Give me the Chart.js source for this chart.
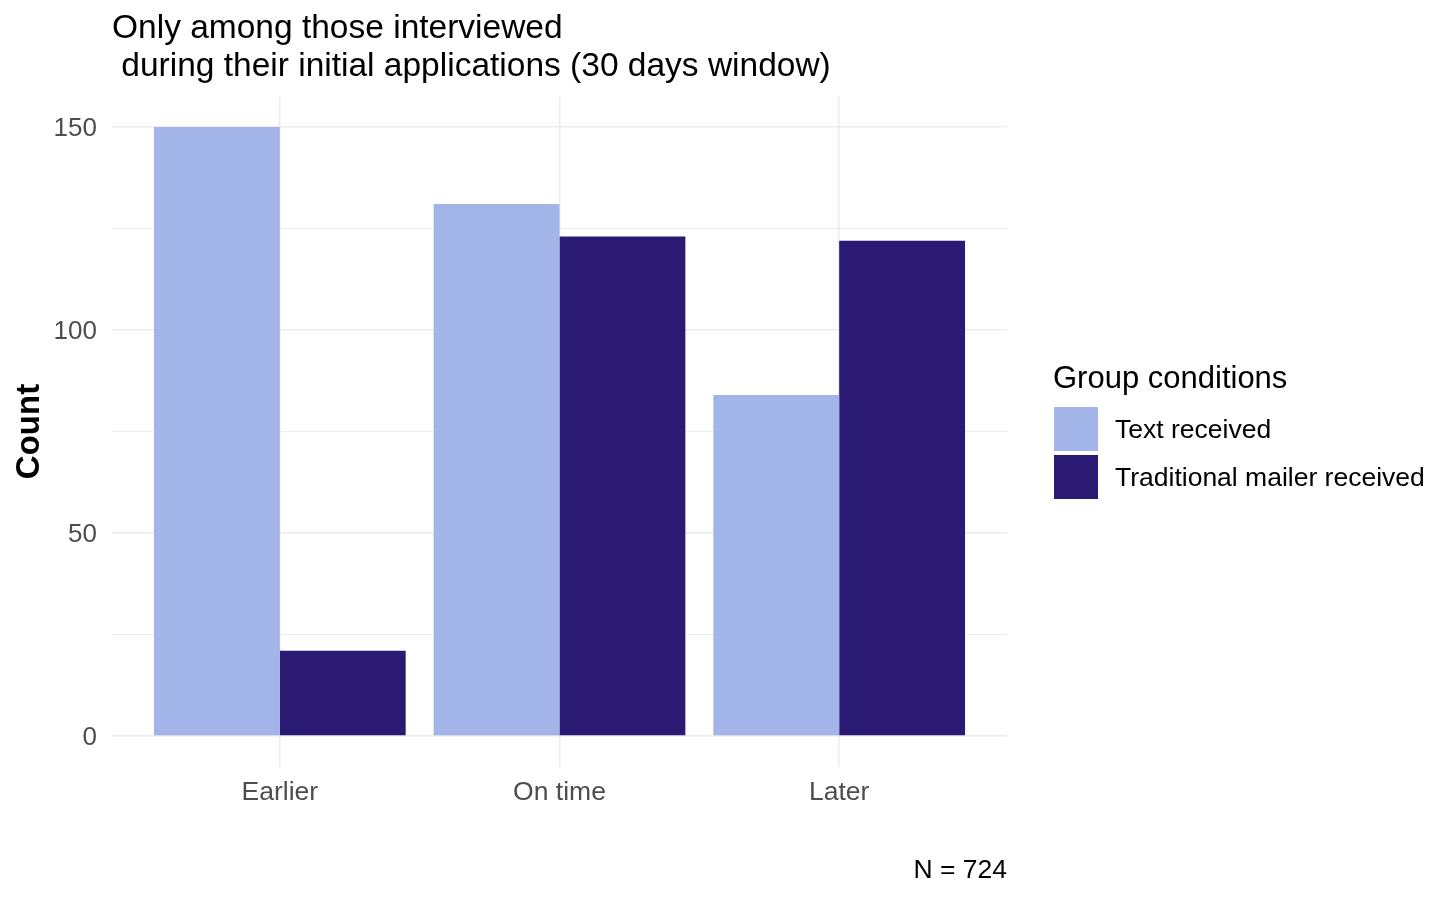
<!DOCTYPE html>
<html><head><meta charset="utf-8">
<script src="https://cdn.jsdelivr.net/npm/chart.js@4.4.1/dist/chart.umd.min.js"></script>
<style>html,body{margin:0;padding:0;background:#fff;} #wrap{width:1456px;height:899px;position:relative;}</style>
</head><body><div id="wrap"><canvas id="c" width="1456" height="899"></canvas></div>
<script>
const categories = ['Earlier', 'On time', 'Later'];
const seriesNames = ['Text received', 'Traditional mailer received'];
const textReceived = [150, 131, 84];
const mailerReceived = [21, 123, 122];
const yTicks = [0, 25, 50, 75, 100, 125, 150];
const yLabelTicks = [0, 50, 100, 150];
const titleLines = ['Only among those interviewed', ' during their initial applications (30 days window)'];
const yTitle = 'Count';
const caption = 'N = 724';
const legendTitle = 'Group conditions';
const seriesColors = ['#A2B4E8', '#2B1A74'];

const F = '"Liberation Sans", Arial, Helvetica, sans-serif';

const sideLegend = {
  id: 'sideLegend',
  afterDraw(chart) {
    const ctx = chart.ctx;
    const x0 = chart.chartArea.right + 46;
    ctx.save();
    ctx.textBaseline = 'middle';
    ctx.textAlign = 'left';
    ctx.fillStyle = '#000';
    ctx.font = '31px ' + F;
    ctx.fillText(legendTitle, x0, 379);
    chart.data.datasets.forEach((ds, i) => {
      ctx.fillStyle = ds.backgroundColor;
      ctx.fillRect(x0 + 1, 407 + i * 48, 44, 44);
      ctx.fillStyle = '#000';
      ctx.font = '26.5px ' + F;
      ctx.fillText(ds.label, x0 + 62, 431 + i * 48);
    });
    ctx.restore();
  }
};

new Chart(document.getElementById('c'), {
  type: 'bar',
  data: {
    datasets: [
      { label: seriesNames[0], data: textReceived.map((v, i) => ({ x: i + 1, y: v })), backgroundColor: seriesColors[0], borderWidth: 0, categoryPercentage: 0.9, barPercentage: 1.0 },
      { label: seriesNames[1], data: mailerReceived.map((v, i) => ({ x: i + 1, y: v })), backgroundColor: seriesColors[1], borderWidth: 0, categoryPercentage: 0.9, barPercentage: 1.0 }
    ]
  },
  options: {
    responsive: false,
    animation: false,
    devicePixelRatio: 1,
    layout: { padding: { left: 0, right: 449, top: 0, bottom: 0 } },
    plugins: {
      legend: { display: false },
      tooltip: { enabled: false },
      title: {
        display: true, text: titleLines, align: 'start', fullSize: false, color: '#000',
        font: { family: F, size: 33.5, weight: 'normal', lineHeight: 38 / 33.5 },
        padding: { top: 10, bottom: 10.5 }
      }
    },
    scales: {
      x: {
        type: 'linear', min: 0.4, max: 3.6, offset: false,
        afterBuildTicks: s => { s.ticks = categories.map((c, i) => ({ value: i + 1 })); },
        ticks: { callback: v => categories[Math.round(v) - 1], color: '#4D4D4D', font: { family: F, size: 26.5 }, padding: 10, autoSkip: false, maxRotation: 0, minRotation: 0 },
        grid: { offset: false, color: '#EBEBEB', lineWidth: 1.5, drawTicks: false },
        border: { display: false },
        title: { display: true, text: caption, align: 'end', color: '#000', font: { family: F, size: 26.5 }, padding: { top: 0, bottom: 12 } },
        afterFit: s => { s.height = 132.5; }
      },
      y: {
        min: -7.5, max: 157.5,
        afterBuildTicks: s => { s.ticks = yTicks.map(v => ({ value: v })); },
        ticks: { callback: v => yLabelTicks.includes(v) ? String(v) : '', color: '#4D4D4D', font: { family: F, size: 26 }, padding: 15, labelOffset: 2 },
        grid: { color: '#EBEBEB', lineWidth: ctx => (ctx.tick && yLabelTicks.includes(ctx.tick.value)) ? 1.5 : 0.9, drawTicks: false },
        border: { display: false },
        title: { display: true, text: yTitle, color: '#000', font: { family: F, size: 33, weight: 'bold' }, padding: { top: 10, bottom: 0 } },
        afterFit: s => { s.width = 112; }
      }
    }
  },
  plugins: [sideLegend]
});
</script>
</body></html>
